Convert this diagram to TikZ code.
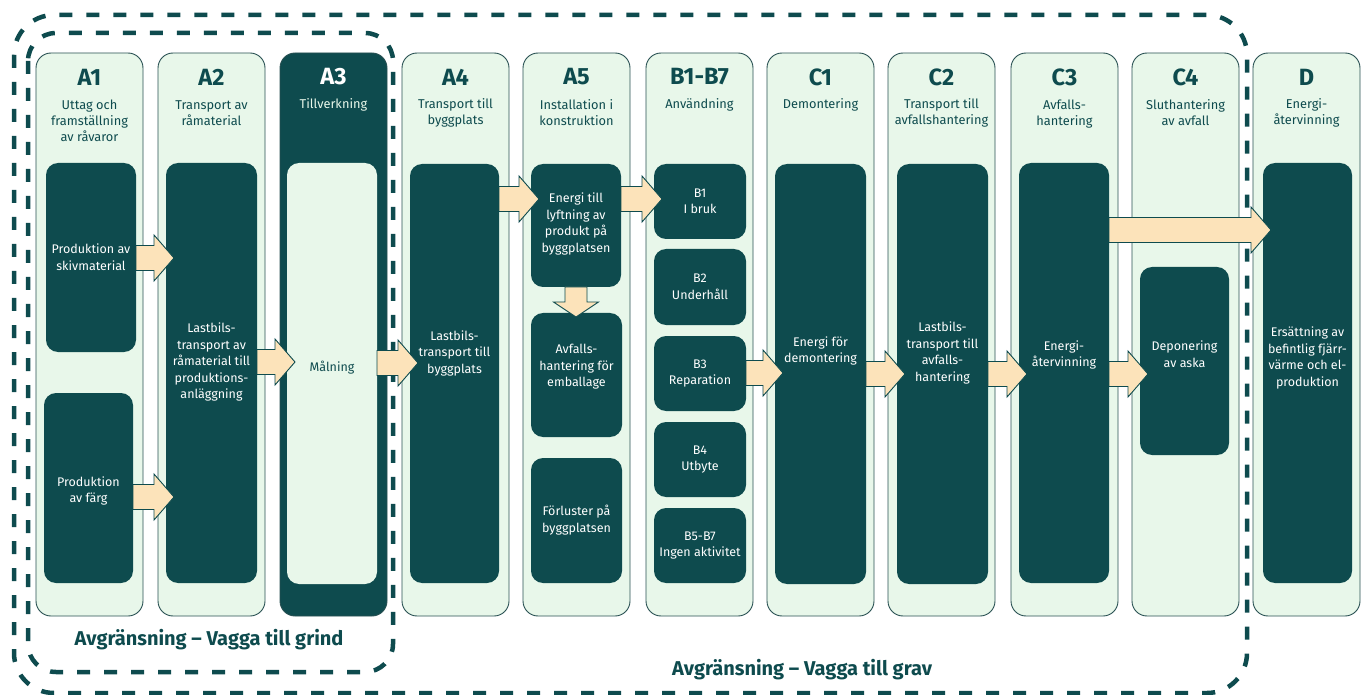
\documentclass[tikz,border=0pt]{standalone}
\usepackage{fontspec}
\setmainfont{Fira Sans}
\usetikzlibrary{calc}
\definecolor{dteal}{RGB}{14,75,78}
\definecolor{lmint}{RGB}{232,247,234}
\definecolor{peach}{RGB}{252,227,186}
\definecolor{edge}{RGB}{40,80,82}
\newcommand\ibox[6][]{%
  \node[ibox,#1,minimum width={(#4-#2)*1pt},minimum height={(#5-#3)*1pt}] (#6) at ({(#2+#4)/2},{(#3+#5)/2}) {};}
\newcommand\harr[3]{%
  \path (0,#3) coordinate (hy);
  \draw[barrow] let \p1=(#1.east |- hy), \p2=(#2.west |- hy) in
    (\x1,\y1+12.5pt) -- (\x2-12pt,\y1+12.5pt) -- (\x2-12pt,\y1+23pt) -- (\x2+8pt,\y1)
    -- (\x2-12pt,\y1-23pt) -- (\x2-12pt,\y1-12.5pt) -- (\x1,\y1-12.5pt) -- cycle;}
\begin{document}
\begin{tikzpicture}[x=1pt,y=-1pt,
  col/.style={draw=edge,line width=0.9pt,fill=lmint,rounded corners=15pt,minimum width=107pt,minimum height=563pt,inner sep=0pt,outer sep=0pt},
  dcol/.style={col,fill=dteal},
  ibox/.style={fill=dteal,rounded corners=12pt,inner sep=0pt,outer sep=0pt},
  lbox/.style={fill=lmint},
  ttl/.style={text=dteal,font=\bfseries\fontsize{23.5}{26}\selectfont,inner sep=0pt},
  sub/.style={text=dteal,font=\fontsize{12.8}{16}\selectfont,align=center,inner sep=0pt},
  btext/.style={text=white,font=\fontsize{12.5}{16.5}\selectfont,align=center,inner sep=0pt},
  bound/.style={draw=dteal,line width=4.5pt,dash pattern=on 13pt off 14pt},
  barrow/.style={draw=dteal,line width=0.9pt,fill=peach,line join=miter},
  lab/.style={text=dteal,font=\bfseries\fontsize{20}{24}\selectfont,inner sep=0pt}]
\path[use as bounding box] (0,0) rectangle (1361,695);
% columns
\node[col]  (A1) at (89.5,334.5) {};
\node[col]  (A2) at (211.5,334.5) {};
\node[dcol] (A3) at (333.5,334.5) {};
\node[col]  (A4) at (455.5,334.5) {};
\node[col]  (A5) at (576.5,334.5) {};
\node[col]  (B)  at (699.5,334.5) {};
\node[col]  (C1) at (820.5,334.5) {};
\node[col]  (C2) at (941.5,334.5) {};
\node[col]  (C3) at (1064.5,334.5) {};
\node[col]  (C4) at (1185.5,334.5) {};
\node[col]  (D)  at (1306.5,334.5) {};
% titles
\node[ttl] (tA1) at (89.5,77) {A1};
\node[ttl] (tA2) at (211.5,77) {A2};
\node[ttl,text=white] (tA3) at (333.5,77) {A3};
\node[ttl] (tA4) at (455.5,77) {A4};
\node[ttl] (tA5) at (576.5,77) {A5};
\node[ttl] (tB)  at (699.5,77) {B1-B7};
\node[ttl] (tC1) at (820.5,77) {C1};
\node[ttl] (tC2) at (941.5,77) {C2};
\node[ttl] (tC3) at (1064.5,77) {C3};
\node[ttl] (tC4) at (1185.5,77) {C4};
\node[ttl] (tD)  at (1306.5,77) {D};
% subtitles
\node[sub] (sA1) at (89.5,121) {Uttag och\\framställning\\av råvaror};
\node[sub] (sA2) at (211.5,113) {Transport av\\råmaterial};
\node[sub,text=lmint] (sA3) at (333.5,105) {Tillverkning};
\node[sub] (sA4) at (455.5,113) {Transport till\\byggplats};
\node[sub] (sA5) at (576.5,113) {Installation i\\konstruktion};
\node[sub] (sB)  at (699.5,105) {Användning};
\node[sub] (sC1) at (820.5,105) {Demontering};
\node[sub] (sC2) at (941.5,113) {Transport till\\avfallshantering};
\node[sub] (sC3) at (1064.5,114) {Avfalls-\\hantering};
\node[sub] (sC4) at (1185.5,113) {Sluthantering\\av avfall};
\node[sub] (sD)  at (1306.5,113) {Energi-\\återvinning};
% inner boxes
\ibox{46}{163}{136}{352}{a1a}
\ibox{44}{393}{133}{583}{a1b}
\ibox{166}{163}{257}{583}{a2b}
\ibox[lbox]{287}{163}{377}{584}{a3b}
\ibox{410}{164}{499}{583}{a4b}
\ibox{531}{164}{621}{287}{a5a}
\ibox{531}{313}{622}{437}{a5b}
\ibox{531}{458}{622}{583}{a5c}
\ibox{654}{164}{746}{239}{b1}
\ibox{654}{249}{746}{325}{b2}
\ibox{654}{336}{746}{411}{b3}
\ibox{654}{422}{746}{497}{b4}
\ibox{654}{508}{746}{583}{b5}
\ibox{775}{164}{866}{584}{c1b}
\ibox{897}{164}{988}{584}{c2b}
\ibox{1019}{163}{1109}{583}{c3b}
\ibox{1140}{267}{1229}{455}{c4b}
\ibox{1263}{163}{1352}{583}{db}
% boundaries
\draw[bound,rounded corners=28pt] (28,33) rectangle (393,672);
\draw[bound,rounded corners=40pt] (14,15) rectangle (1247,693);
% arrows
\harr{a1a}{a2b}{258}
\harr{a1b}{a2b}{497}
\harr{a2b}{a3b}{362}
\harr{a3b}{a4b}{363}
\harr{a4b}{a5a}{199}
\harr{a5a}{b1}{199}
\harr{b3}{c1b}{373}
\harr{c1b}{c2b}{374}
\harr{c2b}{c3b}{374}
\harr{c3b}{c4b}{374}
\harr{c3b}{db}{230}
\draw[barrow] let \p1=(a5a.south), \p2=(a5b.north) in
  (\x1-11pt,\y1) -- (\x1-11pt,\y2+11pt) -- (\x1-22.5pt,\y2+11pt) -- (\x1,\y2-4pt)
  -- (\x1+22.5pt,\y2+11pt) -- (\x1+11pt,\y2+11pt) -- (\x1+11pt,\y1) -- cycle;
% box texts
\node[btext] (ta1a) at (91,257) {Produktion av\\skivmaterial};
\node[btext] (ta1b) at (88.5,491) {Produktion\\av färg};
\node[btext] (ta2) at (211.5,362) {Lastbils-\\transport av\\råmaterial till\\produktions-\\anläggning};
\node[btext,text=dteal] (ta3) at (332,368) {Målning};
\node[btext] (ta4) at (454.5,353) {Lastbils-\\transport till\\byggplats};
\node[btext] (ta5a) at (576,224) {Energi till\\lyftning av\\produkt på\\byggplatsen};
\node[btext] (ta5b) at (576.5,367) {Avfalls-\\hantering för\\emballage};
\node[btext] (ta5c) at (576.5,520) {Förluster på\\byggplatsen};
\node[btext] (tb1) at (700,201.5) {B1\\I bruk};
\node[btext] (tb2) at (700,287) {B2\\Underhåll};
\node[btext] (tb3) at (700,373.5) {B3\\Reparation};
\node[btext] (tb4) at (700,459.5) {B4\\Utbyte};
\node[btext] (tb5) at (700,545.5) {B5-B7\\Ingen aktivitet};
\node[btext] (tc1) at (820.5,351) {Energi för\\demontering};
\node[btext] (tc2) at (942.5,353) {Lastbils-\\transport till\\avfalls-\\hantering};
\node[btext] (tc3) at (1064,355) {Energi-\\återvinning};
\node[btext] (tc4) at (1184.5,354) {Deponering\\av aska};
\node[btext] (td) at (1307.5,358) {Ersättning av\\befintlig fjärr-\\värme och el-\\produktion};
% boundary labels
\node[lab] (lgrind) at (209,640) {Avgränsning – Vagga till grind};
\node[lab] (lgrav) at (802,670) {Avgränsning – Vagga till grav};
\end{tikzpicture}
\end{document}
